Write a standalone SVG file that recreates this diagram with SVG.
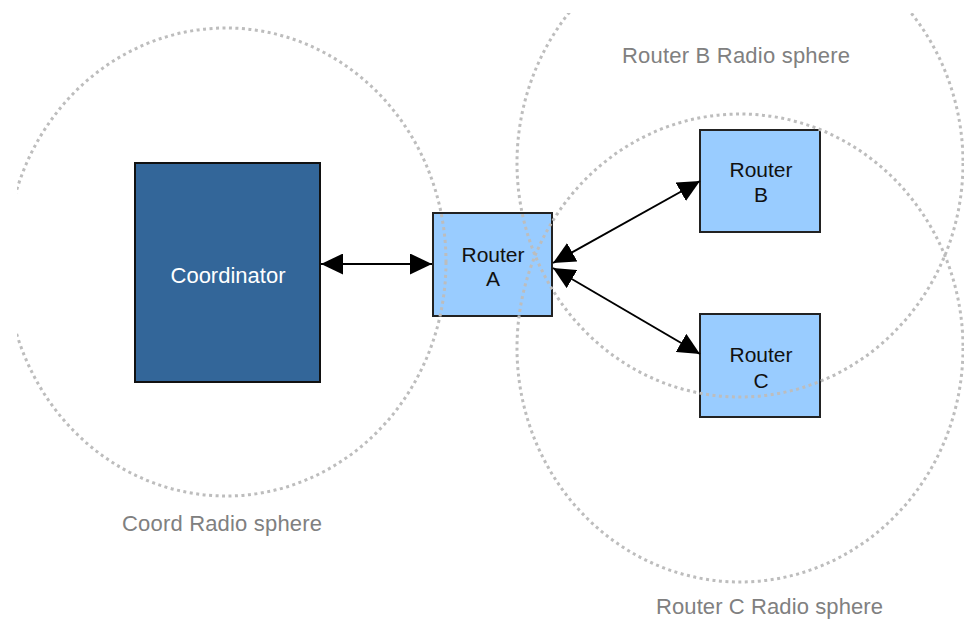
<svg xmlns="http://www.w3.org/2000/svg" width="964" height="619" viewBox="0 0 964 619">
  <style>
    .sphere { fill: none; stroke: #bdbdbd; stroke-width: 3; stroke-dasharray: 3 3.5; }
    .coord { fill: #336699; stroke: #111; stroke-width: 2; }
    .router { fill: #99ccff; stroke: #222; stroke-width: 2; }
    .nt { font-family: "Liberation Sans", Arial, sans-serif; font-size: 21px; text-anchor: middle; fill: #111; }
    .ct { font-family: "Liberation Sans", Arial, sans-serif; font-size: 22px; text-anchor: middle; fill: #ffffff; }
    .lbl { font-family: "Liberation Sans", Arial, sans-serif; font-size: 22px; fill: #808080; }
    .link { stroke: #000; stroke-width: 2; fill: none; }
  </style>
  <defs>
    <clipPath id="clip">
      <rect x="17" y="13" width="947" height="606"/>
    </clipPath>
    <marker id="ah" viewBox="0 0 22 21" refX="22" refY="10.5" markerWidth="22" markerHeight="21" markerUnits="userSpaceOnUse" orient="auto-start-reverse">
      <path d="M0,0 L22,10.5 L0,21 z" fill="#000"/>
    </marker>
  </defs>
  <rect width="964" height="619" fill="#ffffff"/>

  <g id="coordinator">
    <rect class="coord" x="135" y="163" width="185" height="219"/>
    <text class="ct" x="228" y="283">Coordinator</text>
  </g>
  <g id="routerA">
    <rect class="router" x="433" y="213" width="119" height="103"/>
    <text class="nt" x="493" y="262">Router</text>
    <text class="nt" x="493" y="286">A</text>
  </g>
  <g id="routerB">
    <rect class="router" x="700" y="130" width="120" height="102"/>
    <text class="nt" x="761" y="177">Router</text>
    <text class="nt" x="761" y="202">B</text>
  </g>
  <g id="routerC">
    <rect class="router" x="700" y="314" width="120" height="103"/>
    <text class="nt" x="761" y="362">Router</text>
    <text class="nt" x="761" y="388">C</text>
  </g>

  <g id="spheres" clip-path="url(#clip)">
    <ellipse id="coord-sphere" class="sphere" cx="226" cy="262" rx="220" ry="234"/>
    <ellipse id="routerB-sphere" class="sphere" cx="740" cy="163" rx="223" ry="234"/>
    <ellipse id="routerC-sphere" class="sphere" cx="740" cy="348" rx="223" ry="234"/>
  </g>

  <g id="connectors">
    <line class="link" x1="321" y1="264" x2="432" y2="264" marker-start="url(#ah)" marker-end="url(#ah)"/>
    <line class="link" x1="553" y1="263" x2="700" y2="181" marker-start="url(#ah)" marker-end="url(#ah)"/>
    <line class="link" x1="553" y1="268" x2="700" y2="354" marker-start="url(#ah)" marker-end="url(#ah)"/>
  </g>

  <g id="labels">
    <text class="lbl" x="622" y="63" textLength="228" lengthAdjust="spacing">Router B Radio sphere</text>
    <text class="lbl" x="122" y="531" textLength="200" lengthAdjust="spacing">Coord Radio sphere</text>
    <text class="lbl" x="656" y="614" textLength="227" lengthAdjust="spacing">Router C Radio sphere</text>
  </g>
</svg>
